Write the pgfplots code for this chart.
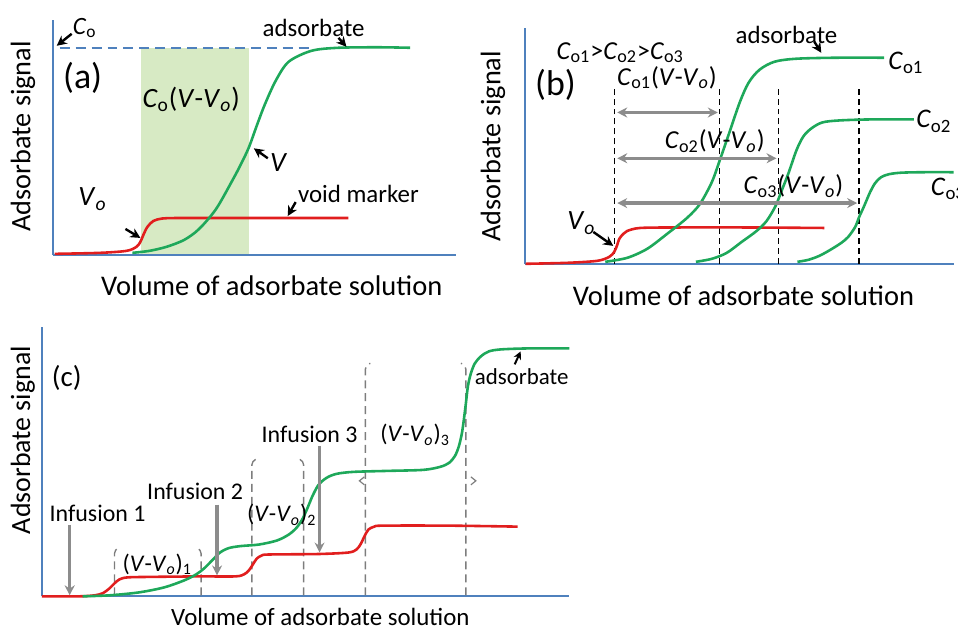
\documentclass[border=0pt]{standalone}
\usepackage{fontspec}
\setmainfont{Carlito}
\usepackage{pgfplots}
\pgfplotsset{compat=1.18}
\usetikzlibrary{arrows.meta}
\definecolor{axisblue}{RGB}{79,129,189}
\definecolor{cgreen}{RGB}{30,168,90}
\definecolor{cred}{RGB}{225,30,30}
\definecolor{shade}{RGB}{215,234,196}
\definecolor{arrgray}{RGB}{140,140,140}
\definecolor{dgray}{RGB}{125,125,125}
\newcommand{\Co}{\textit{C}\textsubscript{o}}
\newcommand{\Vo}{\textit{V}\textsubscript{\textit{o}}}
\newcommand{\Coi}[1]{\textit{C}\textsubscript{o#1}}
\newcommand{\fs}[1]{\fontsize{#1}{#1}\selectfont}
\pgfplotsset{
  panel/.style={
    scale only axis, clip=false,
    axis x line=bottom, axis y line=left,
    xtick=\empty, ytick=\empty,
    axis line style={draw=axisblue, line width=1pt, -},
  },
  gcurve/.style={cgreen, line width=1.3pt, smooth, no markers},
  rcurve/.style={cred, line width=1.3pt, smooth, no markers},
}
\tikzset{
  blk/.style={black, line width=1.2pt, -{Stealth[length=5pt,width=5pt]}},
  garr/.style={arrgray, line width=1.6pt, -{Stealth[length=5pt,width=5pt]}},
  g2arr/.style={arrgray, line width=1.6pt, {Stealth[length=5pt,width=5pt]}-{Stealth[length=5pt,width=5pt]}},
}
\begin{document}
\begin{tikzpicture}
\path (0,0) rectangle (479pt,315.5pt);
% ---------------- (a)
\begin{axis}[panel, at={(26.5pt,187.5pt)}, anchor=south west,
  width=202.5pt, height=118pt,
  xmin=53, xmax=458, ymin=375, ymax=611,
  xlabel={\fs{14.3}Volume of adsorbate solution},
  ylabel={\fs{14.2}Adsorbate signal},
  xlabel style={at={(axis description cs:0.543,-0.131)}, anchor=center},
  ylabel style={at={(axis description cs:-0.074,0.504)}, anchor=center},
]
\addplot[fill=shade, draw=none] coordinates {(142,376) (250,376) (250,583) (142,583)} -- cycle;
\addplot[axisblue, line width=1.1pt, dash pattern=on 5pt off 3pt, no markers] coordinates {(60,583) (313,583)};
\addplot[rcurve] coordinates {(55,376) (100,377) (127,379) (137,383) (141,388) (144,395) (148,403) (154,409) (163,411.5) (180,412) (250,412) (300,412) (350,412)};
\addplot[gcurve] coordinates {(133,377) (150,379) (167,383) (185,390) (200,401) (217,421) (233,449) (242,466) (250,483) (258,505) (266,526) (277,550) (290,569) (313,580) (340,583) (380,583.5) (412,583)};
\node[font=\fs{12.5}] at (axis cs:85,603) {\Co};
\draw[blk] (axis cs:72,597) -- (axis cs:57,585);
\node[font=\fs{18}] at (axis cs:83,553) {(a)};
\node[font=\fs{12.5}] at (axis cs:315,603) {adsorbate};
\draw[blk] (axis cs:340,593) -- (axis cs:348,584);
\node[font=\fs{14}] at (axis cs:192,531) {\Co(\textit{V}-\Vo)};
\node[font=\fs{14}] at (axis cs:280,468) {\textit{V}};
\draw[blk] (axis cs:269,472) -- (axis cs:255,482);
\node[font=\fs{14}] at (axis cs:93,431) {\Vo};
\draw[blk] (axis cs:126,401) -- (axis cs:141,392);
\node[font=\fs{12.5}] at (axis cs:360,436) {void marker};
\draw[blk] (axis cs:297,428) -- (axis cs:289,414);
\end{axis}
% ---------------- (b)
\begin{axis}[panel, at={(263.5pt,183pt)}, anchor=south west,
  width=215.5pt, height=118.5pt,
  xmin=527, xmax=958, ymin=366, ymax=603,
  xlabel={\fs{14.3}Volume of adsorbate solution},
  ylabel={\fs{14.2}Adsorbate signal},
  xlabel style={at={(axis description cs:0.510,-0.135)}, anchor=center},
  ylabel style={at={(axis description cs:-0.074,0.498)}, anchor=center},
]
\foreach \xx in {617,723,782,863} {
  \edef\tmp{\noexpand\draw[black, line width=0.7pt, dash pattern=on 3pt off 2pt] (axis cs:\xx,366) -- (axis cs:\xx,544);}\tmp
}
\addplot[rcurve] coordinates {(528,366) (570,367) (600,369) (612,373) (617,378) (620,385) (622,391) (626,396) (630,399) (643,402) (680,402.5) (750,402.5) (828,402)};
\addplot[gcurve] coordinates {(608,368) (630,372) (650,381) (670,396) (690,412) (703,426) (715,448) (723,470) (732,496) (743,528) (752,548) (763,561) (778,569) (800,572) (840,573) (888,573)};
\addplot[gcurve] coordinates {(699,368) (715,371) (730,377) (745,388) (760,399) (770,409) (779,424) (785,439) (792,457) (800,480) (807,494) (815,502) (826,508) (843,510) (873,511) (918,511)};
\addplot[gcurve] coordinates {(801,368) (812,370) (823,374) (834,380) (845,387) (852,393) (859,403) (863,413) (868,424) (874,438) (879,447) (885,453) (893,456) (905,457.5) (927,458) (958,458)};
\draw[g2arr] (axis cs:620,518) -- (axis cs:721,518);
\draw[g2arr] (axis cs:620,472) -- (axis cs:780,472);
\draw[g2arr] (axis cs:620,427) -- (axis cs:861,427);
\node[font=\fs{13}] at (axis cs:623,578) {\Coi{1}>\Coi{2}>\Coi{3}};
\node[font=\fs{12.5}] at (axis cs:790,596) {adsorbate};
\draw[blk] (axis cs:818,589) -- (axis cs:825,578);
\node[font=\fs{13.5}] at (axis cs:910,568) {\Coi{1}};
\node[font=\fs{13.5}] at (axis cs:938,509) {\Coi{2}};
\node[font=\fs{13.5}, anchor=west, overlay] at (axis cs:928,441) {\Coi{3}};
\node[font=\fs{18}] at (axis cs:558,546) {(b)};
\node[font=\fs{13}] at (axis cs:670,553) {\Coi{1}(\textit{V}-\Vo)};
\node[font=\fs{13}] at (axis cs:718,489) {\Coi{2}(\textit{V}-\Vo)};
\node[font=\fs{13}] at (axis cs:797,444) {\Coi{3}(\textit{V}-\Vo)};
\node[font=\fs{14}] at (axis cs:584,407) {\Vo};
\draw[blk] (axis cs:596,398) -- (axis cs:616,384);
\end{axis}
% ---------------- (c)
\begin{axis}[panel, at={(21pt,16pt)}, anchor=south west,
  width=265pt, height=135.5pt,
  xmin=42, xmax=572, ymin=32, ymax=303,
  xlabel={\fs{12.5}Volume of adsorbate solution},
  ylabel={\fs{14}Adsorbate signal},
  xlabel style={at={(axis description cs:0.528,-0.0775)}, anchor=center},
  ylabel style={at={(axis description cs:-0.036,0.579)}, anchor=center},
]
% brackets
\foreach \xa/\xb/\yt in {115/202/79, 253/305/168, 367/468/264} {
  \edef\tmp{\noexpand\draw[dgray, line width=0.7pt, dash pattern=on 4pt off 2.5pt, rounded corners=2pt] (axis cs:\xa,33) -- (axis cs:\xa,\yt) -- (axis cs:\xa+5,\yt+2);
  \noexpand\draw[dgray, line width=0.7pt, dash pattern=on 4pt off 2.5pt, rounded corners=2pt] (axis cs:\xb,33) -- (axis cs:\xb,\yt) -- (axis cs:\xb-5,\yt+2);}\tmp
}
\draw[dgray, line width=0.6pt] (axis cs:366,152) -- (axis cs:361,148) -- (axis cs:366,144);
\draw[dgray, line width=0.6pt] (axis cs:473,152) -- (axis cs:478,148) -- (axis cs:473,144);
\addplot[rcurve] coordinates {(42,32) (80,32) (95,33) (103,35) (110,40) (115,45) (120,49) (128,51) (150,51.5) (200,52) (236,52) (245,54) (250,58) (254,64) (258,70) (263,73) (270,74) (320,74.5) (350,76) (358,79) (362,84) (366,92) (370,99) (376,102) (385,103) (450,103) (520,102)};
\addplot[gcurve] coordinates {(83,32) (110,33) (140,36) (165,41) (185,48) (197,54) (205,60) (213,68) (221,76) (230,80.5) (242,82.5) (260,84) (278,88) (290,94) (298,101) (304,110) (309,121) (314,133) (320,144) (328,151) (338,155) (355,157) (390,158) (425,159) (442,162) (451,166) (457,173) (461,183) (464,196) (466,210) (468,226) (470,243) (473,256) (477,266) (483,273) (491,278) (503,280) (530,281) (572,281)};
\draw[garr] (axis cs:70,104) -- (axis cs:70,33);
\draw[garr] (axis cs:218,124) -- (axis cs:218,53);
\draw[garr] (axis cs:321,183) -- (axis cs:321,76);
\node[font=\fs{14.5}] at (axis cs:67,251) {(c)};
\node[font=\fs{12}] at (axis cs:98,115) {Infusion 1};
\node[font=\fs{12}] at (axis cs:196,137) {Infusion 2};
\node[font=\fs{12}] at (axis cs:311,195) {Infusion 3};
\node[font=\fs{12}] at (axis cs:158,64) {(\textit{V}-\Vo)\textsubscript{1}};
\node[font=\fs{12}] at (axis cs:283,114) {(\textit{V}-\Vo)\textsubscript{2}};
\node[font=\fs{12}] at (axis cs:417,194) {(\textit{V}-\Vo)\textsubscript{3}};
\node[font=\fs{11.5}] at (axis cs:524,253) {adsorbate};
\draw[black, line width=1pt, -{Stealth[length=4pt,width=4pt]}] (axis cs:517,265) -- (axis cs:523,278);
\end{axis}
\end{tikzpicture}
\end{document}
